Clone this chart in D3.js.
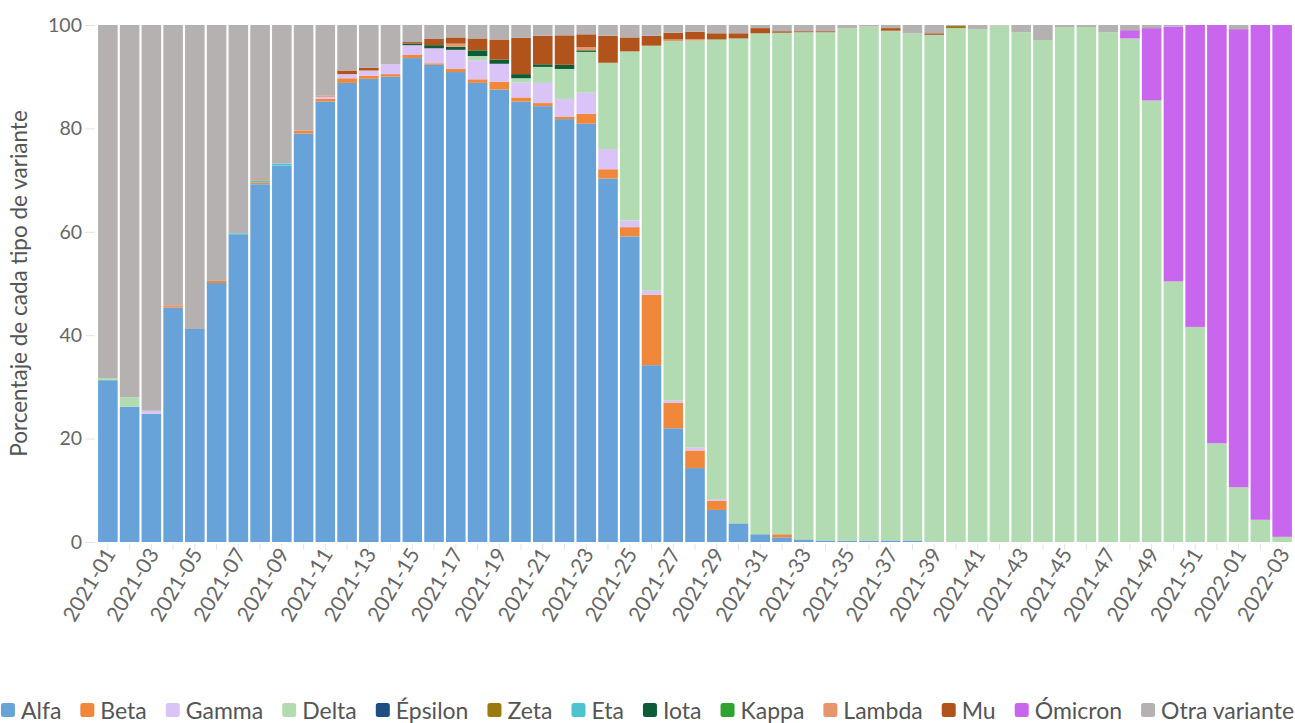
<!DOCTYPE html>
<html>
<head>
<meta charset="utf-8">
<script src="https://cdn.jsdelivr.net/npm/d3@7"></script>
<style>
  html, body { margin: 0; padding: 0; background: #fff; }
  svg { display: block; font-family: Lato, "Open Sans", sans-serif; }
</style>
</head>
<body>
<svg id="chart" width="1295" height="723"></svg>
<script>
const weeks = [];
for (let i = 1; i <= 52; i++) weeks.push("2021-" + String(i).padStart(2, "0"));
weeks.push("2022-01", "2022-02", "2022-03");

const seriesNames = ["Alfa","Beta","Gamma","Delta","Épsilon","Zeta","Eta","Iota","Kappa","Lambda","Mu","Ómicron","Otra variante"];
const seriesColors = ["#67a2d9","#f0883c","#dac3f6","#b3dbb2","#1f4f80","#9a7a0e","#4cc4cf","#0c5c38","#30a232","#e6956d","#b1531a","#c966ee","#b6b1b1"];

const alfa = [31.3,26.2,24.8,45.3,41.2,50.1,59.4,69.2,72.8,79.0,85.2,88.8,89.6,90.0,93.6,92.3,90.9,88.8,87.5,85.2,84.3,81.8,80.9,70.3,59.1,34.2,22.0,14.3,6.2,3.6,1.5,0.9,0.5,0.3,0.2,0.2,0.3,0.3,0.1,0,0,0,0,0,0,0,0,0,0,0,0,0,0,0,0];
const beta = [0,0,0,0,0,0.4,0,0.3,0,0.6,0.5,0.9,0.6,0.5,0.6,0.3,0.6,0.7,1.5,0.8,0.6,0.5,1.9,1.8,1.8,13.6,4.9,3.4,1.8,0,0,0.6,0,0,0,0,0,0,0,0,0,0,0,0,0,0,0,0,0,0,0,0,0,0,0];
const gamma = [0,0,0.6,0,0,0,0,0,0,0,0.4,0.8,1.0,1.9,1.9,2.9,3.7,3.7,3.5,2.9,3.9,3.4,4.1,3.9,1.3,0.8,0.5,0.6,0.3,0,0,0,0,0,0,0,0,0,0,0,0,0,0,0,0,0,0,0,0,0,0,0,0,0,0];
const delta = [0.4,1.8,0,0,0,0,0,0,0,0,0,0,0,0,0,0,0,0.8,0,0.8,3.1,5.8,7.9,16.7,32.7,47.4,69.5,78.7,88.9,93.8,96.9,97.0,98.1,98.3,99.2,99.5,98.6,98.1,98.0,99.4,99.2,99.9,98.6,97.1,99.6,99.6,98.6,97.4,85.4,50.4,41.6,19.1,10.6,4.3,1.0];
const epsilon = new Array(55).fill(0);
const zeta = [0,0,0,0,0,0,0,0,0,0,0,0,0,0,0,0,0,0,0,0,0,0,0,0,0,0,0,0,0,0,0,0,0,0,0,0,0,0,0,0.4,0,0,0,0,0,0,0,0,0,0,0,0,0,0,0];
const eta = [0,0,0,0,0,0,0.3,0.4,0.4,0,0,0,0,0,0,0,0,0,0,0,0,0,0,0,0,0,0,0,0,0,0,0,0,0,0,0,0,0,0,0,0,0,0,0,0,0,0,0,0,0,0,0,0,0,0];
const iota = [0,0,0,0,0,0,0,0,0,0,0,0,0,0,0.3,0.6,0.6,1.1,0.8,0.8,0.5,0.8,0.3,0,0,0,0,0,0,0,0,0,0,0,0,0,0,0,0,0,0,0,0,0,0,0,0,0,0,0,0,0,0,0,0];
const kappa = new Array(55).fill(0);
const lambda = [0,0,0,0.5,0,0,0,0.3,0,0,0.3,0,0,0,0,0,0.6,0,0,0,0,0,0.6,0,0,0,0.3,0.3,0,0,0,0,0,0,0,0,0,0,0,0,0,0,0,0,0,0,0,0,0,0,0,0,0,0,0];
const mu = [0,0,0,0,0,0,0,0,0,0,0,0.7,0.5,0,0.3,1.2,1.2,2.3,3.9,7.0,5.5,5.7,2.5,5.2,2.7,1.9,1.3,1.4,1.2,1.0,1.0,0.3,0.2,0.2,0,0,0.5,0,0.3,0,0,0,0,0,0,0,0,0,0,0,0,0,0,0,0];
const omicron = [0,0,0,0,0,0,0,0,0,0,0,0,0,0,0,0,0,0,0,0,0,0,0,0,0,0,0,0,0,0,0,0,0,0,0,0,0,0,0,0,0,0,0,0,0,0,0,1.6,14.0,49.3,58.4,80.9,88.6,95.7,99.0];
const otra = [68.3,72.0,74.6,54.2,58.8,49.5,40.3,29.8,26.8,20.4,13.6,8.8,8.3,7.6,3.3,2.7,2.4,2.6,2.8,2.5,2.1,2.0,1.8,2.1,2.4,2.1,1.5,1.3,1.6,1.6,0.6,1.2,1.2,1.2,0.6,0.3,0.6,1.6,1.6,0.2,0.8,0.1,1.4,2.9,0.4,0.4,1.4,1.0,0.6,0.3,0,0,0.8,0,0];

const yTicks = [0,20,40,60,80,100];
const xTickLabels = weeks.filter((w, i) => i % 2 === 0);

const seriesValues = [alfa,beta,gamma,delta,epsilon,zeta,eta,iota,kappa,lambda,mu,omicron,otra];
const rows = weeks.map((w, i) => {
  const r = { week: w };
  seriesNames.forEach((s, j) => r[s] = seriesValues[j][i]);
  return r;
});

const svg = d3.select("#chart");
const W = 1295, H = 723;
const m = { left: 97, right: 2, top: 25, bottom: 181 };

const x = d3.scaleBand().domain(weeks).range([m.left, W - m.right]).paddingInner(0.1).paddingOuter(0.05);
const y = d3.scaleLinear().domain([0, 100]).range([H - m.bottom, m.top]);
const color = d3.scaleOrdinal().domain(seriesNames).range(seriesColors);

const stacked = d3.stack().keys(seriesNames)(rows);

svg.append("g").selectAll("g").data(stacked).join("g")
  .attr("fill", d => color(d.key))
  .selectAll("rect").data(d => d.map(v => ({ v, key: d.key }))).join("rect")
  .attr("x", d => x(d.v.data.week))
  .attr("width", x.bandwidth())
  .attr("y", d => y(d.v[1]))
  .attr("height", d => Math.max(0, y(d.v[0]) - y(d.v[1])));

// Y axis
const yAxis = svg.append("g").attr("transform", `translate(${m.left - 2},0)`)
  .call(d3.axisLeft(y).tickValues(yTicks).tickSize(10).tickPadding(3));
yAxis.select(".domain").remove();
yAxis.selectAll(".tick line").attr("stroke", "#e2e2e2");
yAxis.selectAll(".tick text").attr("fill", "#666").style("font-size", "19.5px").style("font-family", "Lato, sans-serif");

svg.append("text")
  .attr("transform", `translate(27,${(y(0) + y(100)) / 2}) rotate(-90)`)
  .attr("text-anchor", "middle")
  .attr("fill", "#555")
  .style("font-size", "22.5px")
  .text("Porcentaje de cada tipo de variante");

// X axis
const xAxis = svg.append("g").attr("transform", `translate(0,${y(0) + 2})`)
  .call(d3.axisBottom(x).tickSize(6).tickPadding(4).tickFormat(d => xTickLabels.includes(d) ? d : ""));
xAxis.select(".domain").remove();
xAxis.selectAll(".tick line").attr("stroke", "#e4e4e4");
xAxis.selectAll(".tick text")
  .attr("fill", "#666")
  .style("font-size", "21px")
  .style("font-family", "Lato, sans-serif")
  .attr("text-anchor", "end")
  .attr("transform", "translate(2,6) rotate(-59)")
  .attr("dy", "0.35em")
  .attr("y", 0).attr("x", 0);

// Legend
const legend = svg.append("g").attr("class", "legend");
const lgFont = 23;
let cx = 0;
const sq = 14, gapSq = 6, gapItem = 19;
seriesNames.forEach(name => {
  const g = legend.append("g");
  g.append("rect").attr("width", sq).attr("height", sq).attr("rx", 2.5).attr("y", -sq / 2 - 1).attr("fill", color(name));
  const t = g.append("text").attr("x", sq + gapSq).attr("dy", "0.35em").attr("fill", "#555").style("font-size", lgFont + "px").text(name);
  const w = t.node().getComputedTextLength();
  g.attr("transform", `translate(${cx},0)`);
  cx += sq + gapSq + w + gapItem;
});
const total = cx - gapItem;
legend.attr("transform", `translate(${(W - total) / 2},711)`);
</script>
</body>
</html>
